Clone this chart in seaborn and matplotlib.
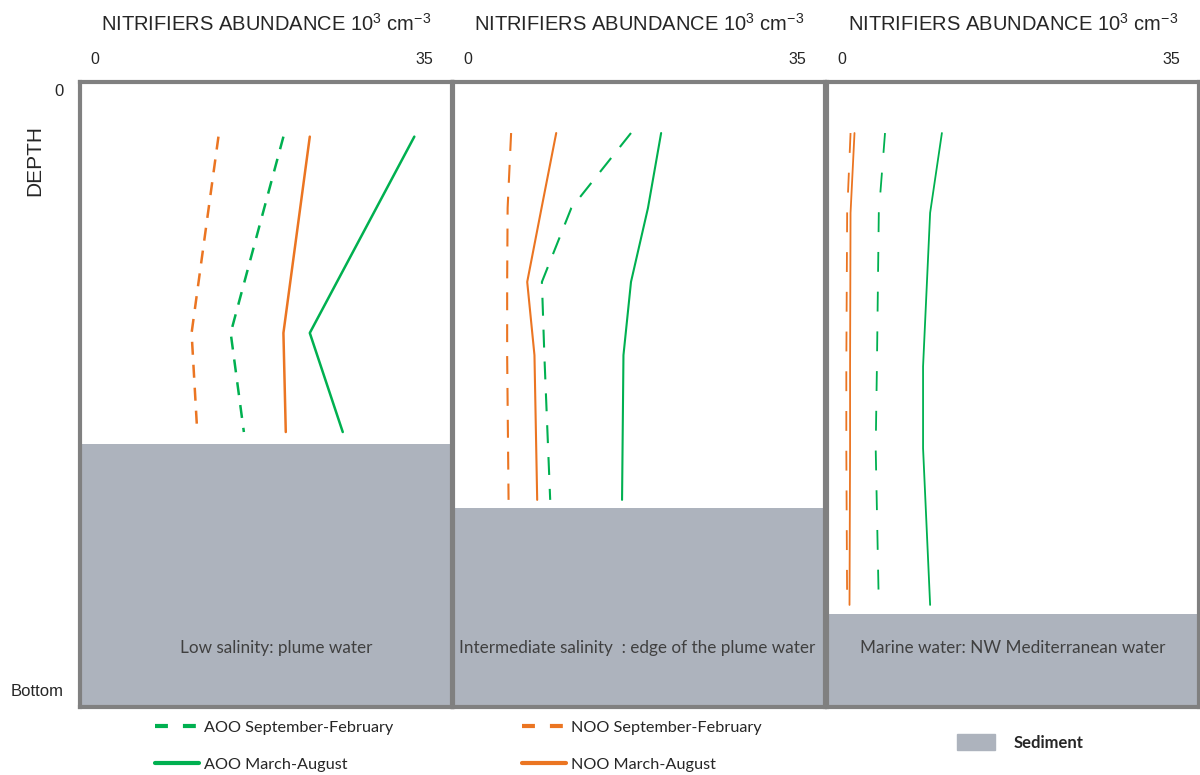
import numpy as np
import pandas as pd
import matplotlib
matplotlib.use("Agg")
import matplotlib.pyplot as plt
from matplotlib import font_manager
from matplotlib.lines import Line2D
from matplotlib.patches import Patch
import seaborn as sns

# depth is relative: 0 = surface, 100 = bottom
panel_names = ["Low salinity: plume water",
               "Intermediate salinity  : edge of the plume water",
               "Marine water: NW Mediterranean water"]
sediment_top = [59.0, 69.7, 87.3]

# panel 1 - low salinity
depth1 = [7.8, 40.5, 57.0]
aoo_sf1 = [20.0, 14.4, 15.8]
aoo_ma1 = [33.9, 22.8, 26.3]
noo_sf1 = [13.1, 10.25, 10.85]
noo_ma1 = [22.8, 20.0, 20.25]

# panel 2 - intermediate salinity
depth2 = [7.2, 19.7, 32.0, 44.2, 68.3]
aoo_sf2 = [17.3, 10.96, 7.84, 8.1, 8.72]
aoo_ma2 = [20.5, 19.1, 17.3, 16.5, 16.35]
noo_sf2 = [4.57, 4.2, 4.15, 4.15, 4.3]
noo_ma2 = [9.36, 7.8, 6.28, 7.05, 7.34]

# panel 3 - marine water
depth3 = [7.2, 20.5, 46.1, 59.7, 85.8]
aoo_sf3 = [4.56, 3.9, 3.7, 3.57, 3.9]
aoo_ma3 = [10.6, 9.35, 8.6, 8.6, 9.35]
noo_sf3 = [0.9, 0.54, 0.45, 0.45, 0.54]
noo_ma3 = [1.32, 0.9, 0.85, 0.85, 0.79]

GREEN = "#00B050"
ORANGE = "#EB7522"
SED = "#ADB3BD"
FRAME = "#808080"

rows = []
for p, (d, series) in enumerate([
        (depth1, {"AOO September-February": aoo_sf1, "AOO March-August": aoo_ma1,
                  "NOO September-February": noo_sf1, "NOO March-August": noo_ma1}),
        (depth2, {"AOO September-February": aoo_sf2, "AOO March-August": aoo_ma2,
                  "NOO September-February": noo_sf2, "NOO March-August": noo_ma2}),
        (depth3, {"AOO September-February": aoo_sf3, "AOO March-August": aoo_ma3,
                  "NOO September-February": noo_sf3, "NOO March-August": noo_ma3})]):
    for name, vals in series.items():
        for dd, v in zip(d, vals):
            rows.append({"panel": p, "series": name, "depth": dd, "abundance": v})
df = pd.DataFrame(rows)

colors = {"AOO September-February": GREEN, "AOO March-August": GREEN,
          "NOO September-February": ORANGE, "NOO March-August": ORANGE}
# line width and dash pattern differ a bit between the panels
panel_lw = [1.8, 1.5, 1.3]
panel_dash = [(5.2, 4.0), (8.6, 6.7), (11.0, 11.0)]
label_x = [0.527, 0.495, 0.5]

sns.set_theme(style="white")
plt.rcParams['font.family'] = ['DejaVu Sans']

installed = {f.name for f in font_manager.fontManager.ttflist}
narrow = [f for f in ["Liberation Sans Narrow", "Liberation Sans", "DejaVu Sans"] if f in installed]
plt.rcParams['mathtext.fontset'] = 'custom'
plt.rcParams['mathtext.rm'] = narrow[0]

fig = plt.figure(figsize=(12, 7.75), dpi=100)
lefts = [80, 453, 827]
width = 372
for p in range(3):
    ax = fig.add_axes([lefts[p] / 1200, 68 / 775, width / 1200, 625 / 775])
    ax.axhspan(sediment_top[p], 103, color=SED, lw=0, zorder=0)
    sub = df[df.panel == p]
    for name, col in colors.items():
        s = sub[sub.series == name]
        sns.lineplot(data=s, x="abundance", y="depth", orient="y",
                     estimator=None, sort=False, color=col, lw=panel_lw[p], ax=ax)
        if "September" in name:
            ax.lines[-1].set_dashes(panel_dash[p])
    ax.set_xlim(-1.6, 37.9)
    ax.set_ylim(102.8, -1.3)
    ax.xaxis.tick_top()
    ax.set_xticks([0, 35])
    ax.tick_params(axis="x", length=0, pad=11, labelsize=11.5)
    for lab in ax.get_xticklabels():
        lab.set_family(narrow)
    ax.set_xlabel("")
    ax.set_ylabel("")
    if p == 0:
        ax.set_yticks([0, 100])
        ax.set_yticklabels(["0", "Bottom"], family=narrow)
        ax.tick_params(axis="y", length=0, pad=12, labelsize=12)
    else:
        ax.set_yticks([])
    for sp in ax.spines.values():
        sp.set_color(FRAME)
        sp.set_linewidth(3)
    ax.set_title(r"NITRIFIERS ABUNDANCE 10$^{\rm 3}$ cm$^{\rm {-}3}$", fontsize=14.5,
                 pad=37, family=narrow)
    ax.text(label_x[p], 0.094, panel_names[p], transform=ax.transAxes, ha="center",
            va="center", fontsize=12.3, color="#404040", family="Lato")

fig.text(35 / 1200, 1 - 161 / 775, "DEPTH", rotation=90, ha="center", va="center",
         fontsize=15, family=narrow)

# legends below the panels
h_aoo = [Line2D([], [], color=GREEN, lw=3, dashes=(3.1, 3.6)),
         Line2D([], [], color=GREEN, lw=3)]
h_noo = [Line2D([], [], color=ORANGE, lw=3, dashes=(3.1, 3.6)),
         Line2D([], [], color=ORANGE, lw=3)]
leg_kw = dict(loc="upper left", frameon=False, handlelength=2.7, labelspacing=1.4,
              handletextpad=0.35, prop={"family": "Lato", "size": 11.7})
fig.legend(h_aoo, ["AOO September-February", "AOO March-August"],
           bbox_to_anchor=(140 / 1200, 1 - 706 / 775), **leg_kw)
fig.legend(h_noo, ["NOO September-February", "NOO March-August"],
           bbox_to_anchor=(507 / 1200, 1 - 706 / 775), **leg_kw)
fig.legend([Patch(color=SED)], ["Sediment"],
           loc="upper left", bbox_to_anchor=(942 / 1200, 1 - 719 / 775),
           frameon=False, handlelength=2.3, handleheight=1.1, handletextpad=1.1,
           prop={"family": "Lato", "size": 12, "weight": "bold"})

fig.savefig("out.png", dpi=100)
